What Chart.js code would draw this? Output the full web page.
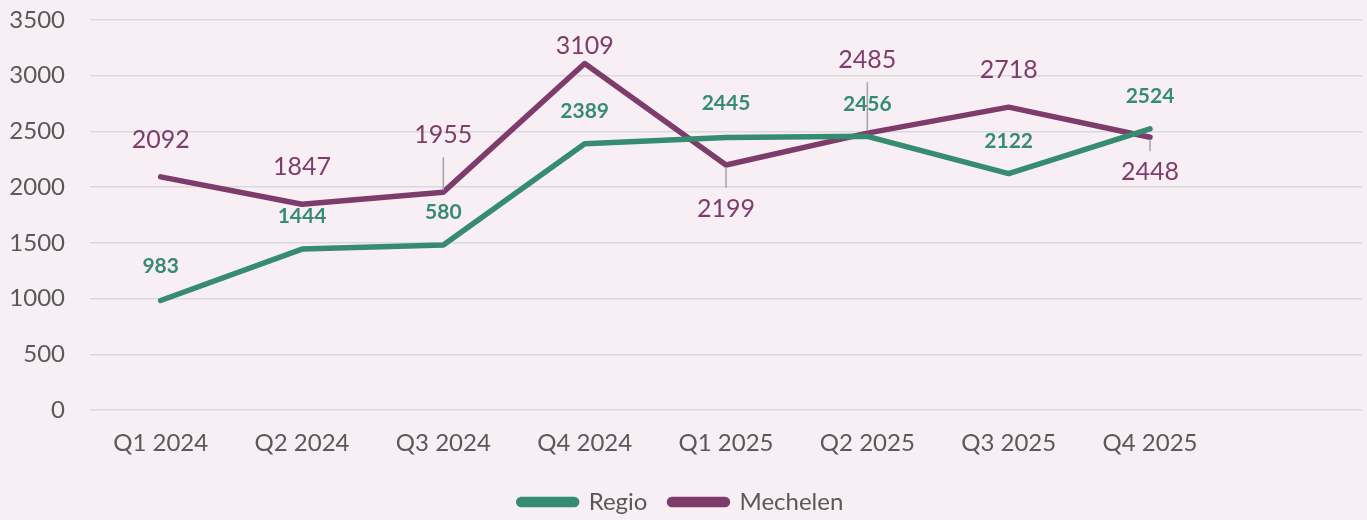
<!DOCTYPE html>
<html>
<head>
<meta charset="utf-8">
<script src="https://cdn.jsdelivr.net/npm/chart.js@4.4.1/dist/chart.umd.min.js"></script>
<style>
  html, body { margin: 0; padding: 0; background: #f7eff4; }
  #wrap { width: 1367px; height: 520px; position: relative; }
</style>
</head>
<body>
<div id="wrap"><canvas id="chart" width="1367" height="520"></canvas></div>
<script>
// data
const quarters = ['Q1 2024', 'Q2 2024', 'Q3 2024', 'Q4 2024', 'Q1 2025', 'Q2 2025', 'Q3 2025', 'Q4 2025', ''];
const regio = [983, 1444, 1480, 2389, 2445, 2456, 2122, 2524];
const regioText = ['983', '1444', '580', '2389', '2445', '2456', '2122', '2524'];
const mechelen = [2092, 1847, 1955, 3109, 2199, 2485, 2718, 2448];
const mechelenText = ['2092', '1847', '1955', '3109', '2199', '2485', '2718', '2448'];

const green = '#358c70';
const purple = '#7d3c6c';
const grey = '#595959';

// label placement (pixel offsets from the point) and leader lines
const regioDy = [-34, -33, -33, -33, -34, -32, -32, -33];
const mechDy = [-37, -37, -57, -18, 44, -73, -37, 35];
const mechLeader = [false, false, true, false, true, true, false, true];

const labelPlugin = {
  id: 'pointLabels',
  afterDatasetsDraw(chart) {
    const ctx = chart.ctx;
    const sets = [
      { meta: chart.getDatasetMeta(0), text: regioText, dy: regioDy, color: green, font: 'bold 21px Lato', leader: [] },
      { meta: chart.getDatasetMeta(1), text: mechelenText, dy: mechDy, color: purple, font: '25px Lato', leader: mechLeader }
    ];
    ctx.save();
    sets.forEach(s => {
      s.meta.data.forEach((pt, i) => {
        const ly = pt.y + s.dy[i];
        if (s.leader[i]) {
          ctx.strokeStyle = '#a6a6a6';
          ctx.lineWidth = 1.5;
          ctx.beginPath();
          if (s.dy[i] < 0) {
            ctx.moveTo(pt.x, ly + 22);
            ctx.lineTo(pt.x, pt.y - 2);
          } else {
            ctx.moveTo(pt.x, pt.y + 2);
            ctx.lineTo(pt.x, ly - 21);
          }
          ctx.stroke();
        }
        ctx.font = s.font;
        ctx.fillStyle = s.color;
        ctx.textAlign = 'center';
        ctx.textBaseline = 'middle';
        ctx.fillText(s.text[i], pt.x, ly);
      });
    });
    ctx.restore();
  }
};

// legend spacing tweak
const legendFit = {
  id: 'legendFit',
  beforeInit(chart) {
    const fit = chart.legend.fit;
    chart.legend.fit = function () {
      fit.bind(chart.legend)();
      this.height -= 4;
    };
  }
};

const ctx = document.getElementById('chart').getContext('2d');
new Chart(ctx, {
  type: 'line',
  data: {
    labels: quarters,
    datasets: [
      {
        label: 'Regio',
        data: regio,
        borderColor: green,
        backgroundColor: green,
        borderWidth: 5.5,
        pointRadius: 0,
        borderCapStyle: 'round',
        borderJoinStyle: 'round'
      },
      {
        label: 'Mechelen',
        data: mechelen,
        borderColor: purple,
        backgroundColor: purple,
        borderWidth: 5.5,
        pointRadius: 0,
        borderCapStyle: 'round',
        borderJoinStyle: 'round'
      }
    ]
  },
  options: {
    responsive: false,
    animation: false,
    layout: { padding: { top: 20, right: 5, left: 0, bottom: 0 } },
    scales: {
      x: {
        offset: true,
        afterFit: s => { s.height = 58; },
        grid: { display: false },
        border: { display: false },
        ticks: { color: grey, font: { family: 'Lato', size: 24 }, padding: 11, maxRotation: 0 }
      },
      y: {
        min: 0,
        max: 3500,
        afterFit: s => { s.width = 90; s.paddingTop = 0; s.paddingBottom = 0; },
        grid: { color: '#d9d9d9', lineWidth: 1.5, drawTicks: false },
        border: { display: false },
        ticks: { color: grey, font: { family: 'Lato', size: 24 }, padding: 25, stepSize: 500, callback: v => String(v) }
      }
    },
    plugins: {
      legend: {
        position: 'bottom',
        labels: {
          color: grey,
          font: { family: 'Lato', size: 24 },
          boxWidth: 58,
          boxHeight: 5,
          useBorderRadius: true,
          borderRadius: 2.5,
          padding: 22
        }
      },
      tooltip: { enabled: false }
    }
  },
  plugins: [labelPlugin, legendFit]
});
</script>
</body>
</html>
